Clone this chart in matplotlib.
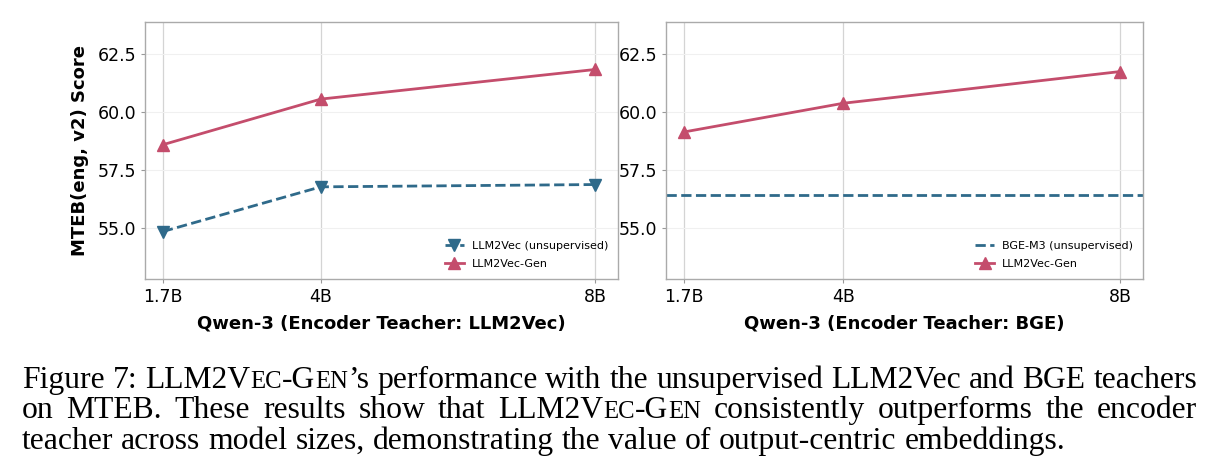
import matplotlib
matplotlib.use("Agg")
import matplotlib.pyplot as plt

# ---------------- data ----------------
sizes = [1.7, 4, 8]
size_labels = ["1.7B", "4B", "8B"]

left_gen = [58.6, 60.57, 61.85]
left_teacher = [54.85, 56.78, 56.88]
right_gen = [59.15, 60.39, 61.76]
bge_m3 = 56.44

left_xlabel = "Qwen-3 (Encoder Teacher: LLM2Vec)"
right_xlabel = "Qwen-3 (Encoder Teacher: BGE)"
ylabel = "MTEB(eng, v2) Score"
yticks = [55.0, 57.5, 60.0, 62.5]

RED = "#C44D6C"
BLUE = "#2F6A8A"

W, H = 1219, 474
fig = plt.figure(figsize=(W / 100, H / 100), dpi=100)

ax1 = fig.add_axes([145 / W, 1 - 279 / H, 473 / W, 257 / H])
ax2 = fig.add_axes([666 / W, 1 - 279 / H, 477 / W, 257 / H])

for ax in (ax1, ax2):
    ax.set_xlim(1.44, 8.33)
    ax.set_ylim(52.8, 63.9)
    ax.set_xticks(sizes)
    ax.set_xticklabels(size_labels)
    ax.set_yticks(yticks)
    ax.set_yticklabels([f"{v:.1f}" for v in yticks])
    ax.tick_params(labelsize=12.5, length=3, color="#999999", width=0.8)
    ax.grid(axis="x", color="#d4d4d4", lw=0.9)
    ax.grid(axis="y", color="#f0f0f0", lw=0.8)
    ax.set_axisbelow(True)
    for s in ax.spines.values():
        s.set_color("#aaaaaa")
        s.set_linewidth(1.0)

ax1.plot(sizes, left_teacher, color=BLUE, ls="--", lw=2, marker="v",
         ms=9, label="LLM2Vec (unsupervised)")
ax1.plot(sizes, left_gen, color=RED, ls="-", lw=2, marker="^",
         ms=9, label="LLM2Vec-Gen")
ax2.axhline(bge_m3, color=BLUE, ls="--", lw=2, label="BGE-M3 (unsupervised)")
ax2.plot(sizes, right_gen, color=RED, ls="-", lw=2, marker="^",
         ms=9, label="LLM2Vec-Gen")

for ax in (ax1, ax2):
    ax.legend(loc="lower right", fontsize=8, frameon=False,
              handlelength=1.7, handletextpad=0.7, labelspacing=0.75,
              borderaxespad=0.5)

ax1.set_xlabel(left_xlabel, fontsize=13, fontweight="bold", labelpad=6)
ax2.set_xlabel(right_xlabel, fontsize=13, fontweight="bold", labelpad=6)
ax1.set_ylabel(ylabel, fontsize=13, fontweight="bold", labelpad=6)

# ---------------- caption (small caps rendered by size) ----------------
cap_lines = [
    [("Figure 7: LLM2V", 1.0), ("EC", 0.78), ("-G", 1.0), ("EN", 0.78),
     ("’s performance with the unsupervised LLM2Vec and BGE teachers", 1.0)],
    [("on MTEB. These results show that LLM2V", 1.0), ("EC", 0.78), ("-G", 1.0),
     ("EN", 0.78), (" consistently outperforms the encoder", 1.0)],
    [("teacher across model sizes, demonstrating the value of output-centric embeddings.", 1.0)],
]
justify = [True, True, False]
baselines = [388, 418, 449]
x_left, x_right = 22, 1197
base_fs = 22.8

renderer = fig.canvas.get_renderer()


def split_words(line):
    words = [[]]
    for txt, sc in line:
        parts = txt.split(" ")
        for i, p in enumerate(parts):
            if i > 0:
                words.append([])
            if p:
                words[-1].append((p, sc))
    return [w for w in words if w]


def measure(txt, fs):
    t = fig.text(0, 0, txt, fontsize=fs, family="Liberation Serif")
    w = t.get_window_extent(renderer).width
    t.remove()
    return w


space_w = measure("a a", base_fs) - measure("aa", base_fs)
for line, just, yb in zip(cap_lines, justify, baselines):
    words = split_words(line)
    widths = []
    for w in words:
        widths.append([measure(p, base_fs * sc) for p, sc in w])
    total = sum(sum(ws) for ws in widths)
    gap = (x_right - x_left - total) / (len(words) - 1) if just else space_w
    x = x_left
    for w, ws in zip(words, widths):
        for (p, sc), pw in zip(w, ws):
            fig.text(x / W, 1 - yb / H, p, fontsize=base_fs * sc,
                     family="Liberation Serif", va="baseline", ha="left")
            x += pw
        x += gap

fig.savefig("out.png", dpi=100)
